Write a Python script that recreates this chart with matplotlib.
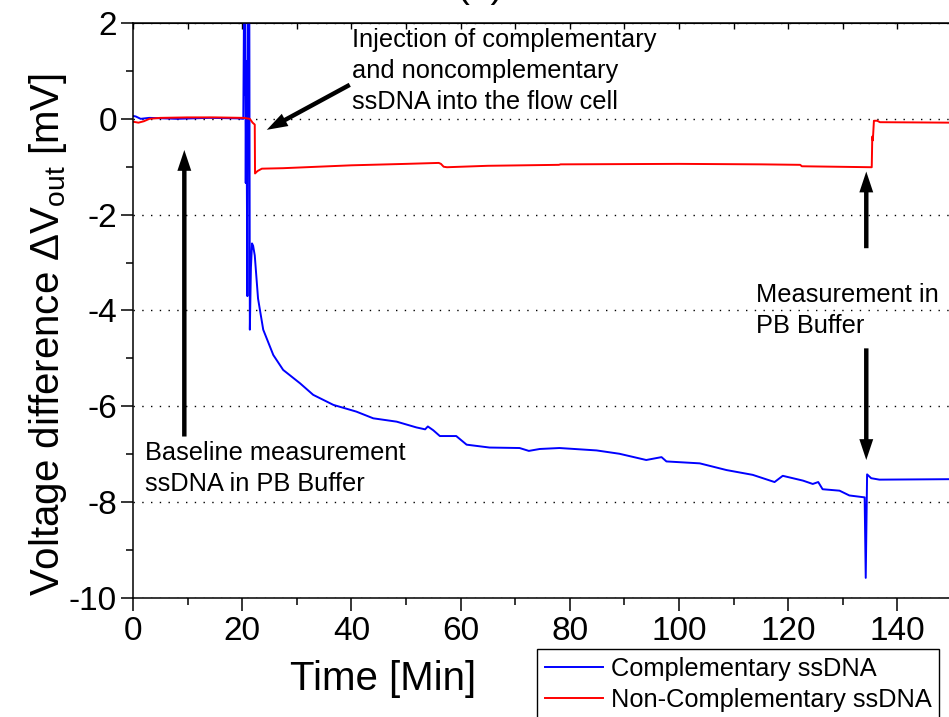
import matplotlib
matplotlib.use("Agg")
import matplotlib.pyplot as plt
from matplotlib.ticker import MultipleLocator
from matplotlib.lines import Line2D

plt.rcParams["font.family"] = ["Liberation Sans", "DejaVu Sans"]
plt.rcParams["axes.unicode_minus"] = False

# complementary ssDNA (blue)
t_comp = [0, 0.5, 1.4, 3, 8, 14, 19, 20.2,
          20.35, 20.45, 20.55, 20.65, 20.75, 20.85, 20.95, 21.05, 21.3, 21.4,
          21.6, 21.8, 22.0, 22.3, 22.9, 23.85, 25.7, 27.5, 30.6, 33.0, 36.7,
          40.9, 44.0, 48.3, 51.9, 53.5, 54.0, 55.0, 56.2, 59.2, 61.1, 65.3,
          70.8, 72.5, 74.5, 78.1, 84.9, 89.1, 94.0, 96.8, 97.7, 103.8, 108.7,
          113.5, 117.5, 119.0, 122.7, 124.5, 125.5, 126.3, 129.4, 131.2, 134.0,
          134.2, 134.45, 135.2, 136.7, 150]
v_comp = [0.06, 0.05, 0.0, 0.02, 0.0, 0.02, 0.01, 0.0,
          2.6, 0.5, 2.6, -1.34, 1.2, -1.3, -3.7, 2.6, 2.6, -4.4,
          -3.1, -2.6, -2.65, -2.85, -3.75, -4.40, -4.93, -5.24, -5.52, -5.76, -5.97,
          -6.11, -6.25, -6.32, -6.44, -6.48, -6.42, -6.50, -6.62, -6.62, -6.80, -6.86,
          -6.87, -6.93, -6.89, -6.87, -6.92, -6.99, -7.12, -7.06, -7.15, -7.19, -7.33,
          -7.43, -7.58, -7.45, -7.55, -7.62, -7.58, -7.73, -7.76, -7.86, -7.90,
          -9.58, -7.42, -7.50, -7.53, -7.52]

# non-complementary ssDNA (red)
t_noncomp = [0, 1, 2, 3, 5, 10, 15, 20.3, 21.4, 21.9, 22.3, 22.35, 22.8, 23.6,
             27.5, 40, 50, 56.0, 56.4, 56.9, 57.5, 65, 78.0, 78.3, 100, 115,
             122.2, 122.5, 135.3, 135.4, 135.5, 135.7, 136.3, 136.8, 150]
v_noncomp = [-0.06, -0.08, -0.05, 0.0, 0.02, 0.03, 0.03, 0.02, 0.0, -0.08, -0.12,
             -1.14, -1.09, -1.04, -1.03, -0.97, -0.94, -0.92, -0.94, -1.0, -1.01,
             -0.98, -0.96, -0.95, -0.94, -0.95, -0.96, -0.99, -1.01, -0.37, -0.45,
             -0.04, -0.04, -0.07, -0.08]

labels = ["Complementary ssDNA", "Non-Complementary ssDNA"]

fig = plt.figure(figsize=(9.49, 7.17), dpi=100)
ax = fig.add_axes([133 / 949, 1 - 598 / 717, (952 - 133) / 949, 575 / 717])

ax.plot(t_comp, v_comp, color="#0000ff", lw=1.4)
ax.plot(t_noncomp, v_noncomp, color="#ff0000", lw=1.4)

ax.set_xlim(0, 150)
ax.set_ylim(-10, 2)
ax.xaxis.set_major_locator(MultipleLocator(20))
ax.xaxis.set_minor_locator(MultipleLocator(10))
ax.yaxis.set_major_locator(MultipleLocator(2))
ax.yaxis.set_minor_locator(MultipleLocator(1))
ax.tick_params(which="major", direction="out", length=9, width=1.1, labelsize=24)
ax.tick_params(axis="x", which="major", pad=4)
ax.tick_params(axis="y", which="major", pad=2.5)
ax.tick_params(which="minor", direction="out", length=5, width=1.1)
ax.grid(axis="y", color="black", lw=1.0, linestyle=(0, (1, 5.3)))
for s in ax.spines.values():
    s.set_linewidth(1.1)

top = ax.secondary_xaxis("top")
top.xaxis.set_major_locator(MultipleLocator(10))
top.tick_params(direction="in", length=4, width=1.0, labeltop=False)

ax.set_xlabel("Time [Min]", fontsize=29)
ax.xaxis.set_label_coords(0.305, -0.108)
ax.set_ylabel("Voltage difference ΔV$_\\mathregular{out}$ [mV]", fontsize=29)
ax.yaxis.set_label_coords(-0.078, 0.459)

fig.text(480 / 949, 1.004, "(a)", ha="center", va="baseline", fontsize=28)

arrow = dict(width=3.2, headwidth=10, headlength=15, facecolor="black",
             edgecolor="none", shrink=0.0)
ax.annotate("", xy=(24.5, -0.23), xytext=(39.7, 0.71), arrowprops=arrow)
ax.annotate("", xy=(9.4, -0.65), xytext=(9.4, -6.63), arrowprops=arrow)
ax.annotate("", xy=(134.3, -1.10), xytext=(134.3, -2.70), arrowprops=arrow)
ax.annotate("", xy=(134.3, -7.12), xytext=(134.3, -4.79), arrowprops=arrow)

note = dict(fontsize=18.3, va="top", ha="left", linespacing=1.38)
ax.text(40.1, 1.9, "Injection of complementary\nand noncomplementary\nssDNA into the flow cell", **note)
ax.text(2.2, -6.72, "Baseline measurement\nssDNA in PB Buffer", **note)
ax.text(114.1, -3.42, "Measurement in\nPB Buffer", **note)

handles = [Line2D([], [], color="#0000ff", lw=1.4), Line2D([], [], color="#ff0000", lw=1.4)]
leg = fig.legend(handles, labels, loc="upper left", bbox_to_anchor=(537 / 949, 1 - 649 / 717),
                 fontsize=18.3, frameon=True, fancybox=False, framealpha=1,
                 edgecolor="black", borderaxespad=0, borderpad=0.3,
                 handlelength=2.3, handletextpad=0.3, labelspacing=0.3)
leg.get_frame().set_linewidth(1.0)

fig.savefig("out.png", dpi=100)
